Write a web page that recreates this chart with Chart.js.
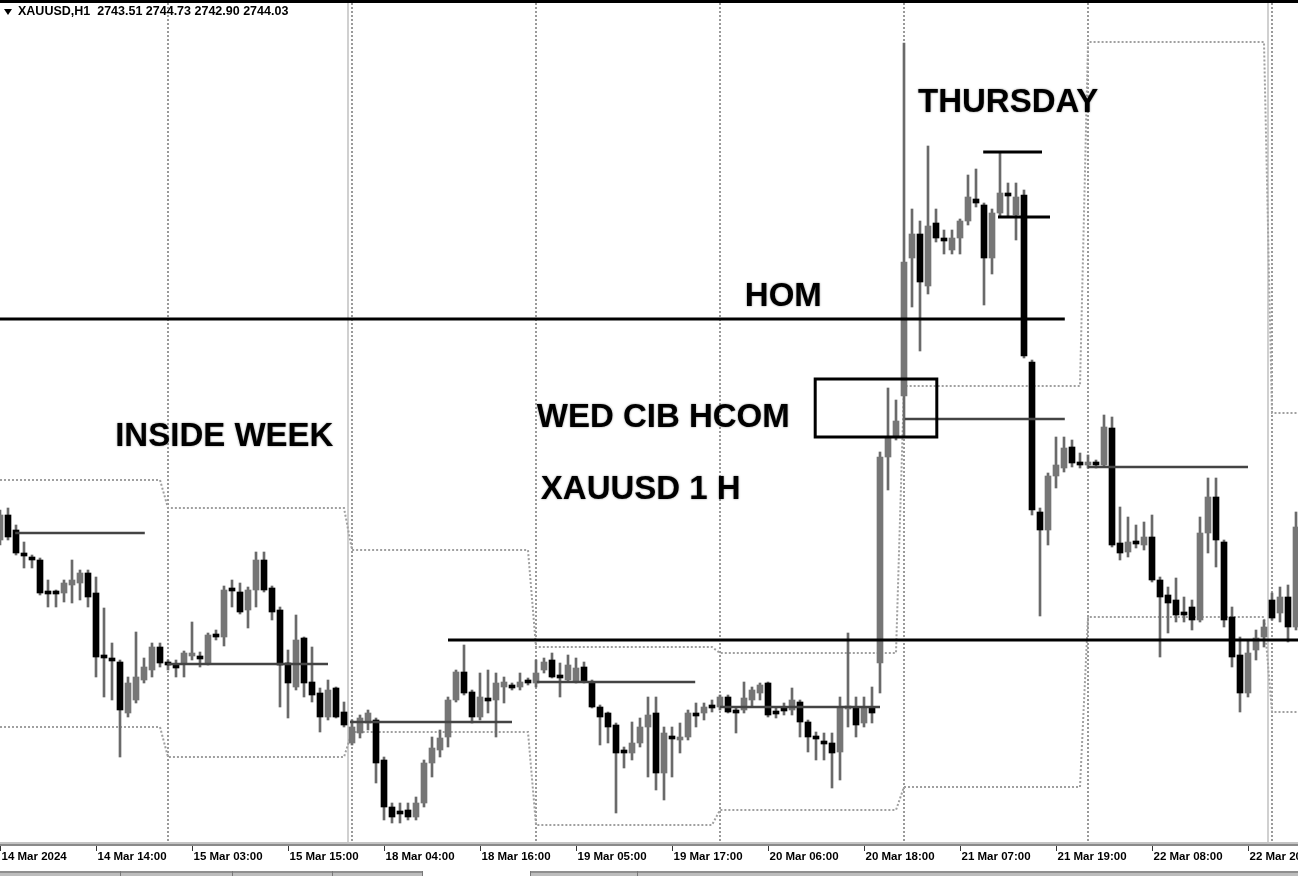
<!DOCTYPE html>
<html lang="en">
<head>
    <meta charset="UTF-8" />
    <title>XAUUSD H1</title>
    <script src="https://cdn.jsdelivr.net/npm/chart.js"></script>
    <style>
        html, body { margin: 0; padding: 0; background: #fff; }
        #chartContainer { width: 1298px; height: 876px; position: relative; }
    </style>
</head>
<body>

<div id="chartContainer">
    <canvas id="myChart"></canvas>
</div>

<script>
    // Hourly candles, 14 Mar - 25 Mar 2024 (one value per bar)
    const openPrices = [
        2174.0, 2176.5, 2175.0, 2172.7, 2172.3, 2172.0, 2168.8, 2168.7, 2168.7, 2169.5,
        2169.7, 2170.7, 2168.7, 2162.4, 2162.1, 2161.8, 2156.7, 2158.0, 2160.0, 2161.0,
        2163.3, 2161.7, 2161.5, 2161.7, 2162.4, 2162.4, 2161.7, 2164.5, 2164.3, 2169.0,
        2168.8, 2167.0, 2169.0, 2172.0, 2169.2, 2167.0, 2161.7, 2159.3, 2164.2, 2159.8,
        2158.7, 2156.3, 2159.2, 2156.8, 2153.7, 2154.7, 2155.7, 2156.0, 2152.0, 2147.3,
        2146.8, 2147.0, 2146.3, 2147.7, 2151.7, 2153.0, 2154.3, 2158.0, 2160.8, 2158.8,
        2156.3, 2158.1, 2158.0, 2159.3, 2159.4, 2159.3, 2159.8, 2159.7, 2161.0, 2162.0,
        2160.4, 2160.0, 2159.8, 2161.3, 2159.8, 2157.3, 2156.7, 2155.5, 2152.9, 2152.7,
        2153.7, 2155.3, 2156.7, 2150.7, 2154.3, 2154.0, 2154.3, 2156.6, 2156.7, 2157.4,
        2157.3, 2158.3, 2156.9, 2157.0, 2158.0, 2158.7, 2159.7, 2156.8, 2157.1, 2157.0,
        2157.8, 2155.8, 2154.3, 2153.8, 2153.7, 2152.8, 2157.1, 2157.2, 2155.7, 2157.3,
        2161.7, 2182.3, 2184.3, 2188.4, 2202.2, 2204.6, 2199.4, 2205.7, 2204.1, 2203.0,
        2204.2, 2205.9, 2208.1, 2207.5, 2202.2, 2206.7, 2208.6, 2206.5, 2208.5, 2191.8,
        2176.8, 2175.0, 2180.4, 2181.2, 2183.3, 2181.7, 2181.5, 2181.8, 2181.5, 2185.2,
        2173.7, 2172.8, 2173.8, 2173.5, 2174.3, 2170.0, 2168.5, 2168.0, 2166.8, 2167.3,
        2166.0, 2174.7, 2178.3, 2173.8, 2166.3, 2162.5, 2158.7, 2163.0, 2164.3, 2168.0,
        2166.7, 2168.3, 2165.3
    ];
    const highPrices = [
        2177.0, 2177.2, 2175.5, 2173.8, 2172.5, 2172.2, 2170.0, 2169.0, 2170.0, 2172.0,
        2171.0, 2171.0, 2170.3, 2167.2, 2163.7, 2162.0, 2160.3, 2164.8, 2162.2, 2163.7,
        2163.7, 2162.0, 2162.0, 2162.9, 2165.8, 2162.8, 2164.7, 2165.0, 2169.4, 2170.0,
        2169.7, 2169.3, 2172.8, 2172.8, 2169.4, 2167.3, 2163.0, 2166.5, 2164.3, 2163.3,
        2159.2, 2160.0, 2159.3, 2157.8, 2156.0, 2156.5, 2157.0, 2156.2, 2152.3, 2147.7,
        2147.7, 2147.7, 2148.3, 2152.0, 2154.3, 2155.0, 2158.3, 2161.0, 2163.5, 2159.0,
        2160.7, 2161.0, 2160.7, 2160.3, 2159.7, 2160.7, 2160.2, 2162.0, 2162.2, 2162.7,
        2161.7, 2162.5, 2162.2, 2161.8, 2160.0, 2157.5, 2156.8, 2155.7, 2153.3, 2155.8,
        2156.2, 2158.3, 2158.3, 2155.3, 2155.3, 2155.7, 2157.0, 2157.7, 2157.7, 2158.0,
        2158.5, 2158.5, 2157.3, 2159.8, 2159.3, 2159.7, 2159.8, 2157.3, 2157.7, 2159.2,
        2158.0, 2156.0, 2154.8, 2154.7, 2154.7, 2158.3, 2164.7, 2158.3, 2158.3, 2159.3,
        2182.8, 2189.2, 2188.0, 2223.7, 2207.1, 2205.9, 2213.4, 2207.1, 2205.0, 2205.0,
        2206.1, 2210.5, 2211.1, 2207.7, 2207.1, 2212.8, 2209.7, 2209.7, 2209.0, 2192.0,
        2177.2, 2180.7, 2184.3, 2184.3, 2184.0, 2182.7, 2182.5, 2182.0, 2186.5, 2186.3,
        2177.3, 2176.3, 2175.5, 2175.8, 2176.5, 2170.3, 2169.3, 2170.2, 2168.3, 2168.0,
        2176.3, 2180.2, 2180.2, 2174.0, 2167.3, 2164.3, 2164.0, 2165.0, 2166.0, 2168.7,
        2169.3, 2169.5, 2176.8
    ];
    const lowPrices = [
        2173.5, 2174.0, 2172.5, 2171.2, 2171.2, 2168.5, 2167.3, 2167.3, 2167.8, 2167.7,
        2168.0, 2167.3, 2160.3, 2158.3, 2158.0, 2152.3, 2156.3, 2157.7, 2159.7, 2160.3,
        2161.3, 2161.0, 2160.3, 2160.3, 2162.0, 2161.3, 2161.5, 2164.0, 2163.4, 2167.3,
        2166.6, 2165.2, 2167.3, 2168.8, 2166.0, 2157.3, 2156.2, 2159.0, 2158.3, 2157.8,
        2154.8, 2156.0, 2156.2, 2155.3, 2153.5, 2154.2, 2155.0, 2149.7, 2146.0, 2145.7,
        2145.7, 2146.0, 2146.0, 2147.3, 2150.3, 2152.3, 2153.3, 2157.8, 2158.5, 2155.7,
        2156.0, 2156.7, 2154.3, 2157.7, 2159.0, 2159.0, 2159.5, 2159.3, 2160.7, 2160.2,
        2158.3, 2159.8, 2159.7, 2159.7, 2157.2, 2153.5, 2153.7, 2146.7, 2151.2, 2152.0,
        2153.3, 2150.3, 2149.0, 2148.0, 2150.3, 2152.7, 2154.0, 2155.3, 2156.0, 2156.8,
        2157.0, 2156.7, 2154.7, 2156.7, 2157.3, 2158.0, 2156.3, 2156.2, 2156.5, 2156.5,
        2154.3, 2152.8, 2152.0, 2152.0, 2149.2, 2150.0, 2155.3, 2154.3, 2155.3, 2155.7,
        2158.7, 2179.0, 2184.0, 2184.3, 2197.3, 2192.9, 2198.6, 2203.8, 2202.6, 2202.6,
        2202.6, 2205.5, 2207.3, 2197.5, 2200.6, 2206.3, 2206.3, 2204.0, 2192.2, 2176.5,
        2166.4, 2173.5, 2179.2, 2180.8, 2181.3, 2181.2, 2181.2, 2181.2, 2181.3, 2173.3,
        2172.0, 2172.3, 2173.2, 2173.0, 2169.8, 2162.3, 2164.7, 2165.8, 2165.8, 2165.0,
        2165.8, 2172.7, 2171.3, 2165.3, 2161.3, 2156.8, 2158.3, 2162.0, 2163.3, 2166.0,
        2165.8, 2163.8, 2165.0
    ];
    const closePrices = [
        2176.5, 2174.3, 2172.7, 2172.4, 2172.0, 2168.7, 2168.6, 2168.6, 2169.7, 2170.0,
        2170.7, 2168.3, 2162.3, 2162.2, 2161.9, 2157.0, 2159.7, 2160.3, 2161.3, 2163.3,
        2161.7, 2161.5, 2161.2, 2162.7, 2162.6, 2162.1, 2164.5, 2164.3, 2169.0, 2168.9,
        2166.8, 2169.0, 2172.0, 2169.0, 2166.8, 2161.5, 2159.7, 2164.0, 2159.7, 2158.5,
        2156.3, 2159.0, 2156.3, 2155.5, 2155.3, 2156.2, 2156.7, 2151.7, 2147.3, 2146.3,
        2146.6, 2146.3, 2147.7, 2151.7, 2153.2, 2154.2, 2158.0, 2160.8, 2158.7, 2156.3,
        2158.3, 2157.9, 2159.7, 2159.8, 2159.2, 2159.8, 2159.7, 2160.7, 2161.8, 2160.3,
        2160.2, 2161.5, 2161.2, 2159.8, 2157.3, 2156.3, 2155.3, 2152.7, 2152.7, 2153.7,
        2155.3, 2156.5, 2150.7, 2154.7, 2154.1, 2154.3, 2156.7, 2156.4, 2157.3, 2157.2,
        2158.3, 2156.8, 2156.7, 2158.2, 2159.0, 2159.5, 2156.5, 2156.6, 2156.9, 2158.0,
        2155.8, 2154.3, 2154.1, 2153.6, 2152.7, 2157.3, 2157.3, 2155.5, 2157.3, 2156.7,
        2182.3, 2184.3, 2185.9, 2201.8, 2204.6, 2199.8, 2205.4, 2204.2, 2203.9, 2204.2,
        2205.9, 2208.3, 2207.7, 2202.2, 2206.7, 2208.7, 2208.4, 2208.3, 2192.4, 2177.0,
        2175.0, 2180.4, 2181.5, 2183.2, 2181.7, 2181.5, 2181.8, 2181.5, 2185.3, 2173.5,
        2172.7, 2173.8, 2173.6, 2174.3, 2170.0, 2168.3, 2167.7, 2166.5, 2166.5, 2166.0,
        2174.7, 2178.3, 2174.0, 2166.0, 2162.3, 2158.7, 2162.7, 2164.2, 2165.3, 2166.2,
        2168.3, 2165.3, 2175.3
    ];

    // time axis: one label every 12 bars
    const tickStep = 12;
    const tickLabels = [
        '14 Mar 2024', '14 Mar 14:00', '15 Mar 03:00', '15 Mar 15:00', '18 Mar 04:00',
        '18 Mar 16:00', '19 Mar 05:00', '19 Mar 17:00', '20 Mar 06:00', '20 Mar 18:00',
        '21 Mar 07:00', '21 Mar 19:00', '22 Mar 08:00', '22 Mar 20:00'
    ];

    // period separators (bar positions)
    const daySeparators = [21, 44, 67, 90, 113, 136, 159];
    const weekSeparators = [43.5, 158.5];

    // previous day high / low, one level per day block
    const dayStart = [0, 21, 44, 67, 90, 113, 136, 159];
    const dayEnd = [20, 43, 66, 89, 112, 135, 158, 162.3];
    const prevDayHigh = [2180.0, 2177.2, 2173.0, 2163.3, 2162.7, 2189.4, 2223.8, 2186.7];
    const prevDayLow = [2155.3, 2152.3, 2154.8, 2145.5, 2147.0, 2149.3, 2166.3, 2156.8];

    // drawn levels: [from bar, to bar, price]
    const dayLevels = [
        [1.9, 18.1, 2174.7], [20.9, 41, 2161.6], [43.75, 64, 2155.8], [67.1, 86.9, 2159.8],
        [90, 110, 2157.3], [113.1, 133.1, 2186.1], [136, 156, 2181.3]
    ];
    const keyLevels = [
        [0, 133.1, 2196.1], [56, 162.3, 2164.0], [122.9, 130.25, 2212.8], [124.75, 131.25, 2206.3]
    ];

    // box round the Wednesday candles: [from bar, to bar], [top price, bottom price]
    const boxBars = [101.9, 117.1];
    const boxPrices = [2190.1, 2184.3];

    // notes: [text, bar, price]
    const notes = [
        ['THURSDAY', 114.75, 2217.7],
        ['HOM', 93.1, 2198.3],
        ['WED CIB HCOM', 67.1, 2186.2],
        ['XAUUSD 1 H', 67.6, 2179.0],
        ['INSIDE WEEK', 14.4, 2184.3]
    ];

    const header = 'XAUUSD,H1  2743.51 2744.73 2742.90 2744.03';

    document.addEventListener('DOMContentLoaded', function () {
        const ctx = document.getElementById('myChart').getContext('2d');

        const bars = openPrices.map((o, i) => i);
        const wickData = bars.map(i => ({ x: i, y: [lowPrices[i], highPrices[i]] }));
        const bodyData = bars.map(i => ({ x: i, y: [openPrices[i], closePrices[i]] }));
        const bodyColors = bars.map(i => closePrices[i] >= openPrices[i] ? '#767676' : '#000000');

        // step lines for previous day high / low
        const stepPoints = levels => {
            const pts = [];
            levels.forEach((v, d) => {
                pts.push({ x: dayStart[d], y: v });
                pts.push({ x: dayEnd[d], y: v });
            });
            return pts;
        };

        const lineSet = (seg, color, width) => ({
            type: 'line',
            data: [{ x: seg[0], y: seg[2] }, { x: seg[1], y: seg[2] }],
            borderColor: color,
            borderWidth: width,
            pointRadius: 0,
            order: 0
        });

        const datasets = [
            {
                type: 'line',
                data: stepPoints(prevDayHigh),
                borderColor: '#a0a0a0',
                borderWidth: 2,
                borderDash: [2, 2],
                pointRadius: 0,
                order: 5
            },
            {
                type: 'line',
                data: stepPoints(prevDayLow),
                borderColor: '#a0a0a0',
                borderWidth: 2,
                borderDash: [2, 2],
                pointRadius: 0,
                order: 5
            },
            {
                type: 'bar',
                data: wickData,
                backgroundColor: '#6a6a6a',
                barThickness: 2,
                grouped: false,
                order: 3
            },
            {
                type: 'bar',
                data: bodyData,
                backgroundColor: bodyColors,
                barThickness: 6,
                minBarLength: 3,
                grouped: false,
                order: 2
            }
        ];
        dayLevels.forEach(s => datasets.push(lineSet(s, '#444444', 2.5)));
        keyLevels.forEach(s => datasets.push(lineSet(s, '#000000', 3)));

        const decorations = {
            id: 'decorations',
            beforeDatasetsDraw(chart) {
                const { ctx, chartArea, scales: { x } } = chart;
                ctx.save();
                ctx.lineWidth = 2;
                ctx.strokeStyle = '#d0d0d0';
                weekSeparators.forEach(v => {
                    const px = Math.round(x.getPixelForValue(v));
                    ctx.beginPath();
                    ctx.moveTo(px, chartArea.top);
                    ctx.lineTo(px, chartArea.bottom);
                    ctx.stroke();
                });
                ctx.strokeStyle = '#9a9a9a';
                ctx.setLineDash([2, 2]);
                daySeparators.forEach(v => {
                    const px = Math.round(x.getPixelForValue(v));
                    ctx.beginPath();
                    ctx.moveTo(px, chartArea.top);
                    ctx.lineTo(px, chartArea.bottom);
                    ctx.stroke();
                });
                ctx.restore();
            },
            afterDatasetsDraw(chart) {
                const { ctx, scales: { x, y } } = chart;
                ctx.save();
                // box
                const bx0 = x.getPixelForValue(boxBars[0]);
                const bx1 = x.getPixelForValue(boxBars[1]);
                const by0 = y.getPixelForValue(boxPrices[0]);
                const by1 = y.getPixelForValue(boxPrices[1]);
                ctx.strokeStyle = '#000';
                ctx.lineWidth = 3;
                ctx.strokeRect(bx0, by0, bx1 - bx0, by1 - by0);

                // notes
                ctx.fillStyle = '#000';
                ctx.font = 'bold 33px "Liberation Sans", Arial, sans-serif';
                ctx.textAlign = 'left';
                ctx.textBaseline = 'middle';
                ctx.shadowColor = 'rgba(0,0,0,0.5)';
                ctx.shadowBlur = 2;
                notes.forEach(n => {
                    ctx.fillText(n[0], x.getPixelForValue(n[1]), y.getPixelForValue(n[2]));
                });
                ctx.restore();
            },
            afterDraw(chart) {
                const { ctx, chartArea, scales: { x } } = chart;
                const w = chart.width;
                ctx.save();
                // frame on top
                ctx.fillStyle = '#000';
                ctx.fillRect(0, 0, w, 3);

                // header
                ctx.beginPath();
                ctx.moveTo(4, 9);
                ctx.lineTo(12, 9);
                ctx.lineTo(8, 15);
                ctx.closePath();
                ctx.fill();
                ctx.font = 'bold 12.5px "Liberation Sans", Arial, sans-serif';
                ctx.textBaseline = 'middle';
                ctx.fillText(header, 18, 12);

                // time axis
                const axisY = chartArea.bottom;
                ctx.fillStyle = '#8a8a8a';
                ctx.fillRect(0, axisY - 2, w, 2);
                ctx.fillStyle = '#c4c4c4';
                ctx.fillRect(0, axisY - 4, w, 2);
                ctx.strokeStyle = '#333';
                ctx.lineWidth = 1;
                ctx.fillStyle = '#000';
                ctx.font = 'bold 11.5px "Liberation Sans", Arial, sans-serif';
                tickLabels.forEach((t, k) => {
                    const px = Math.round(x.getPixelForValue(k * tickStep)) + 0.5;
                    ctx.beginPath();
                    ctx.moveTo(px, axisY);
                    ctx.lineTo(px, axisY + 5);
                    ctx.stroke();
                    ctx.fillText(t, px + 1, axisY + 11);
                });

                // bottom tab strip
                ctx.fillStyle = '#8f8f8f';
                ctx.fillRect(0, 871, 423, 2);
                ctx.fillRect(530, 871, w - 530, 2);
                ctx.fillStyle = '#bdbdbd';
                ctx.fillRect(0, 873, 423, 3);
                ctx.fillRect(530, 873, w - 530, 3);
                ctx.fillStyle = '#777';
                [120, 232, 332, 422, 530, 637].forEach(t => ctx.fillRect(t, 871, 1, 5));
                ctx.restore();
            }
        };

        new Chart(ctx, {
            type: 'bar',
            data: { datasets: datasets },
            options: {
                responsive: true,
                maintainAspectRatio: false,
                animation: false,
                layout: { padding: { top: 3, bottom: 30, left: 0, right: 0 } },
                plugins: {
                    legend: { display: false },
                    tooltip: { enabled: false }
                },
                scales: {
                    x: {
                        type: 'linear',
                        display: false,
                        offset: false,
                        min: 0,
                        max: 162.25
                    },
                    y: {
                        display: false,
                        min: 2143.4,
                        max: 2227.7
                    }
                }
            },
            plugins: [decorations]
        });
    });
</script>

</body>
</html>
